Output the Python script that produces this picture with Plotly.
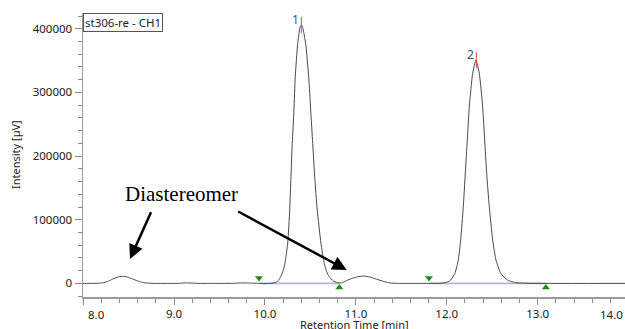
import plotly.graph_objects as go

# ---- chromatogram trace (time [min], intensity [µV]) ----
time_min = [7.998, 8.10, 8.18, 8.22, 8.26, 8.30, 8.35, 8.40, 8.43, 8.46, 8.51, 8.55, 8.59, 8.63,
            8.67, 8.72, 8.78, 9.00, 9.06, 9.10, 9.15, 9.20, 9.24, 9.40, 9.65, 9.72, 9.78, 9.84,
            9.90, 9.94, 10.00, 10.05, 10.08, 10.12, 10.15, 10.173, 10.20, 10.22, 10.25, 10.272,
            10.286, 10.30, 10.319, 10.333, 10.36, 10.385, 10.40, 10.415, 10.448, 10.481, 10.503,
            10.525, 10.547, 10.575, 10.616, 10.652, 10.68, 10.707, 10.75, 10.79, 10.825, 10.86,
            10.90, 10.95, 11.01, 11.08, 11.155, 11.23, 11.30, 11.36, 11.42, 11.50, 11.80, 11.90,
            11.98, 12.02, 12.043, 12.09, 12.127, 12.153, 12.182, 12.204, 12.226, 12.248, 12.285,
            12.321, 12.358, 12.395, 12.417, 12.439, 12.468, 12.505, 12.541, 12.593, 12.666, 12.72,
            12.769, 12.85, 12.95, 13.961]
intensity_uv = [0, 0, 300, 1000, 2600, 5000, 8500, 10800, 11200, 10900, 8800, 6500, 4300, 2400,
                1000, 300, 0, 0, 100, 700, 800, 500, 100, 0, 100, 600, 700, 400,
                200, 0, -400, 0, 300, 1500, 5000, 10500, 20000, 31600, 63000, 115000,
                167600, 220000, 272400, 324700, 376700, 402000, 406000, 402000, 376700, 324700, 272400,
                220000, 167600, 115300, 63000, 31600, 18000, 10500, 4000, 1500, 700, 1500,
                4500, 7400, 10000, 11600, 10000, 6400, 3300, 1000, 200, 0, 0, 0,
                1000, 3000, 5300, 15900, 36800, 68200, 120500, 173000, 225300, 277600, 330100,
                351000, 330100, 277600, 225300, 173000, 120500, 68200, 36800, 15900, 5300, 2500,
                1000, 300, 0, 0]

# peak apex markers
peak_names = ["1", "2"]
peak_times = [10.40, 12.325]
peak_heights = [406000, 351000]

# integration delimiters
start_times = [9.934, 11.804]
end_times = [10.818, 13.09]

x_tick_vals = [8, 9, 10, 11, 12, 13]
x_tick_text = ["", "9.0", "10.0", "11.0", "12.0", "13.0"]
y_tick_vals = [0, 100000, 200000, 300000, 400000]
y_tick_text = ["0", "100000", "200000", "300000", "400000"]

FONT = "Noto Sans"
fig = go.Figure()

# integration baselines
bx, by = [], []
for s, e in zip(start_times, end_times):
    bx += [s, e, None]
    by += [0, 0, None]
fig.add_trace(go.Scatter(x=bx, y=by, mode="lines",
                         line=dict(color="#a9bad3", width=1.6), hoverinfo="skip"))

# chromatogram
fig.add_trace(go.Scatter(x=time_min, y=intensity_uv, mode="lines",
                         line=dict(color="#4a4a4a", width=1, shape="spline", smoothing=0.5)))

# red apex ticks
rx, ry = [], []
for t, h in zip(peak_times, peak_heights):
    rx += [t, t, None]
    ry += [h + 12500, h - 13000, None]
fig.add_trace(go.Scatter(x=rx, y=ry, mode="lines",
                         line=dict(color="#e8413c", width=1), hoverinfo="skip"))

# delimiter triangles
fig.add_trace(go.Scatter(x=start_times, y=[8500] * len(start_times), mode="markers",
                         marker=dict(symbol="triangle-down", size=7, color="#1e8c1e")))
fig.add_trace(go.Scatter(x=end_times, y=[-6500] * len(end_times), mode="markers",
                         marker=dict(symbol="triangle-up", size=7, color="#1e8c1e")))

annotations = []
for name, t, h in zip(peak_names, peak_times, peak_heights):
    annotations.append(dict(x=t, y=h + 9000, xref="x", yref="y", text=name, showarrow=False,
                            xanchor="right", yanchor="middle", xshift=0,
                            font=dict(family=FONT, size=12, color="#2f4f8f")))

# edge tick labels
annotations.append(dict(x=(96.7 - 83) / 542, y=0, xref="paper", yref="paper", text="8.0",
                        showarrow=False, xanchor="center", yanchor="middle", yshift=-17,
                        font=dict(family=FONT, size=11.5, color="#1a1a1a")))
annotations.append(dict(x=1, y=0, xref="paper", yref="paper", text="14.0",
                        showarrow=False, xanchor="right", yanchor="middle", yshift=-17,
                        font=dict(family=FONT, size=11.5, color="#1a1a1a")))

# axis titles
annotations.append(dict(x=0.5, y=0, xref="paper", yref="paper", text="Retention Time [min]",
                        showarrow=False, xanchor="center", yanchor="middle", yshift=-27,
                        font=dict(family=FONT, size=11, color="#1a1a1a")))
annotations.append(dict(x=(15 - 83) / 542, y=0.5, xref="paper", yref="paper", text="Intensity [µV]",
                        showarrow=False, xanchor="center", yanchor="middle", textangle=-90,
                        font=dict(family=FONT, size=11, color="#1a1a1a")))

# title box
annotations.append(dict(x=0, y=1, xref="paper", yref="paper", text="st306-re - CH1",
                        showarrow=False, xanchor="left", yanchor="top",
                        bordercolor="#555555", borderwidth=1, borderpad=1, bgcolor="white",
                        font=dict(family=FONT, size=11.5, color="#1a1a1a")))

# Diastereomer label and arrows
annotations.append(dict(x=(181.5 - 83) / 542, y=(297 - 194) / 284, xref="paper", yref="paper",
                        text="Diastereomer", showarrow=False, xanchor="center", yanchor="middle",
                        font=dict(family="Liberation Serif", size=21, color="black")))
annotations.append(dict(x=8.515, y=38300, xref="x", yref="y", text="", showarrow=True,
                        ax=21.7, ay=-48.3, arrowhead=2, arrowsize=1.15, arrowwidth=2.5,
                        arrowcolor="black"))
annotations.append(dict(x=10.899, y=21000, xref="x", yref="y", text="", showarrow=True,
                        ax=-110, ay=-59.3, arrowhead=2, arrowsize=1.15, arrowwidth=2.5,
                        arrowcolor="black"))

fig.update_layout(
    width=625, height=329,
    margin=dict(l=83, r=0, t=13, b=32, autoexpand=False),
    paper_bgcolor="white", plot_bgcolor="white",
    showlegend=False, hovermode=False,
    annotations=annotations,
    xaxis=dict(range=[7.998, 13.961], tickmode="array", tickvals=x_tick_vals, ticktext=x_tick_text,
               ticks="outside", ticklen=6, tickcolor="#8a8a8a", tickwidth=1,
               showline=True, linecolor="#9a9a9a", linewidth=1.5, showgrid=False, zeroline=False,
               tickfont=dict(family=FONT, size=11.5, color="#1a1a1a"),
               minor=dict(tickmode="linear", tick0=8, dtick=0.2, ticks="outside", ticklen=4,
                          tickcolor="#8a8a8a", showgrid=False)),
    yaxis=dict(range=[-21400, 424800], tickmode="array", tickvals=y_tick_vals, ticktext=y_tick_text,
               ticks="outside", ticklen=7, tickcolor="#8a8a8a", tickwidth=1,
               showline=True, linecolor="#9a9a9a", linewidth=1.5, showgrid=False, zeroline=False,
               tickfont=dict(family=FONT, size=11.5, color="#1a1a1a"),
               minor=dict(tickmode="linear", tick0=0, dtick=20000, ticks="outside", ticklen=4,
                          tickcolor="#8a8a8a", showgrid=False)),
)

# remove the default page margin so the 625x329 figure fills the window exactly
fig.write_html("out.html", config={"displayModeBar": False, "staticPlot": True},
               post_script="document.body.style.margin='0';document.body.style.overflow='hidden';")
